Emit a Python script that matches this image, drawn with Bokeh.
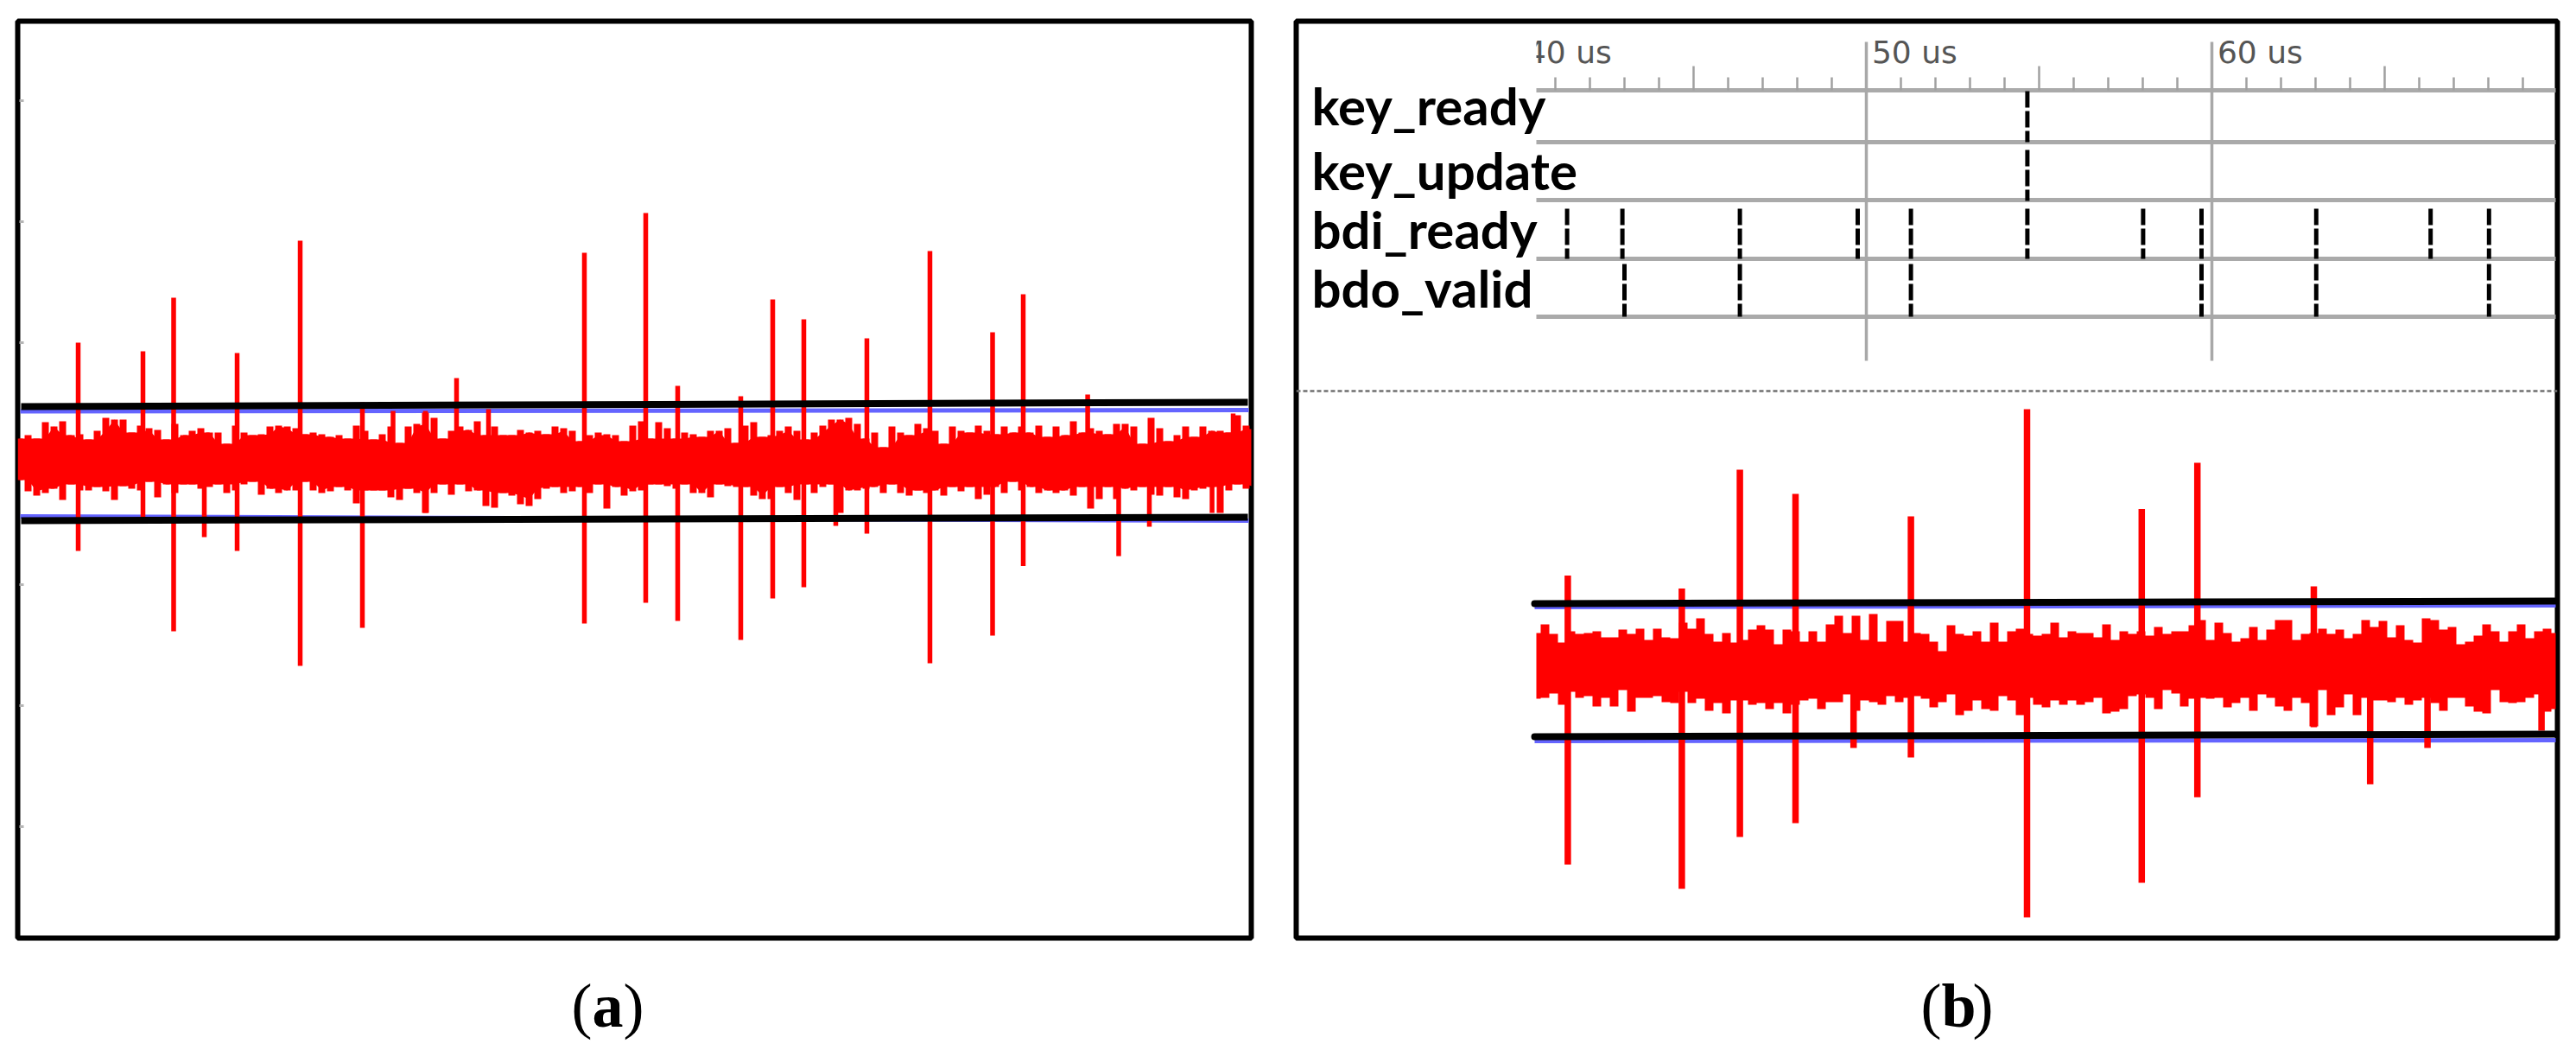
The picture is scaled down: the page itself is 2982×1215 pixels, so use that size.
from bokeh.plotting import figure
from bokeh.models import Range1d
from bokeh.layouts import row, column
from bokeh.core.properties import value
from bokeh.embed import file_html
from bokeh.resources import INLINE
import numpy as np

# ---- panel (a): t-statistic trace (arbitrary amplitude units, sample index)
a_step = 10
a_upper = [29,33,29,48,43,49,33,34,28,38,53,51,51,36,44,41,39,28,46,33,38,41,36,36,23,44,36,33,34,43,44,43,41,34,36,34,31,33,29,44,38,28,34,43,24,43,46,59,53,
           29,38,43,39,49,33,43,33,33,39,36,38,34,43,41,38,26,33,36,34,33,26,44,49,29,48,41,29,36,34,31,38,38,41,24,44,48,31,33,38,43,38,28,36,44,51,51,53,
           46,29,36,19,43,36,33,46,41,38,23,43,38,36,44,38,34,43,36,43,36,44,31,43,33,49,36,41,38,34,46,46,43,23,53,41,26,33,43,31,43,38,38,36,56,44,40]
a_lower = [-19,-32,-37,-34,-29,-42,-24,-31,-31,-27,-32,-42,-26,-29,-31,-21,-39,-24,-34,-24,-24,-29,-27,-24,-34,-31,-24,-21,-36,-29,-34,-31,-31,-21,-31,-34,-32,-27,-31,-46,-31,-31,-31,-39,-42,-29,-34,-57,-34,
           -24,-36,-24,-32,-31,-49,-51,-34,-37,-47,-49,-41,-29,-27,-34,-32,-27,-34,-24,-52,-27,-37,-32,-31,-24,-24,-26,-29,-24,-34,-34,-39,-24,-26,-27,-27,-37,-41,-41,-27,-34,-42,-24,-34,-27,-24,-57,-31,
           -31,-29,-27,-34,-24,-34,-37,-31,-34,-31,-37,-27,-32,-27,-41,-36,-27,-34,-21,-31,-27,-34,-31,-34,-31,-37,-27,-52,-41,-27,-41,-29,-31,-27,-36,-37,-27,-39,-41,-31,-29,-27,-57,-31,-24,-29,-27]
a_spike_x = [70,145,180.5,216,254,327,399,434.5,472,508,545,656,727,764,837,874,910,947,983,1056,1128.5,1164,1238.6,1274.5,1310,1382.6,1407]
a_spike_up = [140,130,192,0,128,258,71,61,61,99,63,244,290,90,78,190,167,0,145,246,152,196,80,0,0,0,58]
a_spike_dn = [-101,-69,-194,-85,-101,-234,-190,0,-57,0,0,-185,-161,-182,-204,-156,-143,-72,-81,-231,-199,-118.5,0,-107,-73,-57,0]
a_ticks = [-420,-280,-140,0,140,280,420]
a_black_x = [4,1424]
a_black_up = [66,71]
a_black_dn = [-66,-62]
a_blue_x = [3,1425]
a_blue_up = [60.5,62]
a_blue_dn = [-61,-66]

# ---- panel (b): waveform plus t-statistic trace (microseconds)
b_step = 0.25
b_start = 40.45
b_upper = [43,53,42,32,45,42,43,45,38,38,47,42,48,35,48,38,37,55,48,60,42,33,43,32,35,47,52,47,30,47,45,33,45,33,53,63,43,63,35,65,33,57,57,33,43,42,33,22,52,42,40,45,33,55,33,45,48,42,40,42,
           55,38,45,43,43,38,53,35,45,42,45,40,50,42,45,45,52,58,35,55,43,33,37,50,35,47,58,58,35,42,43,48,42,47,37,42,58,50,57,38,52,35,32,60,58,47,50,30,33,40,53,45,33,45,53,37,45,48,43]
b_lower = [-33,-32,-27,-40,-25,-32,-30,-42,-32,-42,-23,-48,-32,-32,-30,-37,-38,-25,-38,-33,-47,-38,-50,-35,-35,-40,-38,-45,-38,-50,-40,-35,-33,-45,-37,-37,-28,-47,-35,-37,-40,-30,-37,-32,-30,-33,-43,-37,-28,-52,-47,-35,-45,-47,-30,-35,-52,-32,-40,-43,
           -35,-40,-35,-40,-37,-32,-50,-48,-45,-30,-28,-32,-45,-23,-27,-42,-33,-32,-33,-32,-43,-38,-32,-47,-28,-32,-42,-47,-32,-38,-65,-23,-52,-43,-28,-52,-32,-35,-35,-37,-32,-40,-35,-32,-38,-47,-32,-32,-42,-48,-50,-23,-37,-38,-37,-32,-28,-48,-45]
b_spike_x = [41.36,44.66,46.34,47.95,49.63,51.29,54.65,57.97,59.58,62.95,64.58,66.24,69.54]
b_spike_up = [109.5,94.5,232,204,0,178,302,186.5,240,97,0,0,0]
b_spike_dn = [-225,-253,-193,-177,-90,-101,-286,-246,-147,-66,-132,-90,-70]
b_black_x = [40.4,69.95]
b_black_up = [77,80]
b_black_dn = [-77,-74]
b_blue_up = [73,75]
b_blue_dn = [-82,-81]

signal_names = ["key_ready","key_update","bdi_ready","bdo_valid"]
signal_label_y = [654,579,511,443]
signal_hi = [670,602,534,470]
signal_lo = [611,543,476,409]
key_ready_edges = [54.66]
key_update_edges = [54.66]
bdi_ready_edges = [41.34,42.94,46.34,49.75,51.29,54.66,58.01,59.7,63.02,66.33,68.02]
bdo_valid_edges = [43.0,46.34,51.29,59.7,63.02,68.02]
track_y = [671,611,544,476,409]
major_us = [45,55,65]
cursor_us = [50,60]
minor_us = [41,42,43,44,46,47,48,49,51,52,53,54,56,57,58,59,61,62,63,64,66,67,68,69]
time_labels = ["40 us","50 us","60 us"]
time_label_x = [40.16,50.16,60.16]

def panel(xr, yr, w, h, ml):
    p = figure(width=w, height=h, x_range=Range1d(*xr), y_range=Range1d(*yr), toolbar_location=None,
               output_backend="svg", x_axis_type=None, y_axis_type=None, min_border=4,
               margin=(20,0,0,ml), outline_line_color="black", outline_line_width=6, outline_line_alpha=1,
               background_fill_color="white", border_fill_color="white")
    p.grid.visible = False
    return p

def core(series, sign):
    # solid body of the band: the nearer of each sample and its neighbours
    s = np.abs(np.array(series, dtype=float))
    left = np.r_[s[0], s[:-1]]
    right = np.r_[s[1:], s[-1]]
    return sign*np.minimum(np.minimum(s, left), right)

# ------------------- panel a
pa = panel((0,1428), (-549,512), 1436, 1069, 16)
ax = np.arange(len(a_upper))*a_step + 2
pa.segment(x0=[2]*len(a_ticks), x1=[7]*len(a_ticks), y0=a_ticks, y1=a_ticks, line_color="#b5b5b5", line_width=3)
pa.line(a_blue_x, a_blue_up, line_color="#6464ff", line_width=5)
pa.line(a_blue_x, a_blue_dn, line_color="#6464ff", line_width=5)
pa.segment(x0=a_spike_x, x1=a_spike_x, y0=a_spike_dn, y1=a_spike_up, line_color="#ff0000", line_width=5.5)
pa.vbar(x=ax, width=8, bottom=a_lower, top=a_upper, fill_color="#ff0000", line_color=None)
pa.varea(x=ax, y1=core(a_lower,-1), y2=core(a_upper,1), fill_color="#ff0000")
pa.line(a_black_x, a_black_up, line_color="black", line_width=8)
pa.line(a_black_x, a_black_dn, line_color="black", line_width=8)

# ------------------- panel b
pb = panel((33.5,70), (-310,751), 1468, 1069, 44)
for yv in track_y:
    pb.line([40.45,69.95], [yv,yv], line_color="#aaaaaa", line_width=5)
pb.segment(x0=minor_us, x1=minor_us, y0=[671]*len(minor_us), y1=[686]*len(minor_us), line_color="#a0a0a0", line_width=2.5)
pb.segment(x0=major_us, x1=major_us, y0=[671]*len(major_us), y1=[699]*len(major_us), line_color="#a0a0a0", line_width=2.5)
pb.segment(x0=cursor_us, x1=cursor_us, y0=[358]*2, y1=[727]*2, line_color="#a8a8a8", line_width=3.5)
pb.text(x=time_label_x, y=[715]*3, text=time_labels, text_font=value("DejaVu Sans"), text_font_size="36px",
        text_color="#555555", text_baseline="alphabetic")
pb.quad(left=[33.6], right=[40.45], bottom=[695], top=[735], fill_color="white", line_color=None)
pb.text(x=[33.95]*4, y=signal_label_y, text=signal_names, text_font=value("Lato"), text_font_style="bold",
        text_font_size="60px", text_color="#000000", text_baseline="alphabetic")
for row_i, edges in enumerate([key_ready_edges, key_update_edges, bdi_ready_edges, bdo_valid_edges]):
    pb.segment(x0=edges, x1=edges, y0=[signal_hi[row_i]]*len(edges), y1=[signal_lo[row_i]]*len(edges),
               line_color="black", line_width=5, line_dash="19 4")
pb.line(x=[33.5,70], y=[323,323], line_color="#707070", line_width=2.5, line_dash="5 3")
bx = b_start + np.arange(len(b_upper))*b_step
pb.line(b_black_x, b_blue_up, line_color="#6464ff", line_width=5)
pb.line(b_black_x, b_blue_dn, line_color="#6464ff", line_width=5)
pb.segment(x0=b_spike_x, x1=b_spike_x, y0=b_spike_dn, y1=b_spike_up, line_color="#ff0000", line_width=7.5)
pb.varea_step(x=bx, y1=b_lower, y2=b_upper, step_mode="center", fill_color="#ff0000")
pb.line(b_black_x, b_black_up, line_color="black", line_width=8, line_cap="round")
pb.line(b_black_x, b_black_dn, line_color="black", line_width=8, line_cap="round")

# ------------------- captions
cap = figure(width=2966, height=118, x_range=Range1d(8,2974), y_range=Range1d(1207,1089), toolbar_location=None,
             output_backend="svg", x_axis_type=None, y_axis_type=None, min_border=0, outline_line_color=None)
cap.grid.visible = False
for x0, letter in [(669,"a"),(2231,"b")]:
    cap.text(x=[x0], y=[1163], text=["("], text_font=value("Liberation Serif"), text_font_size="72px",
             text_color="black", text_baseline="alphabetic")
    cap.text(x=[x0+24], y=[1163], text=[letter], text_font=value("Liberation Serif"), text_font_style="bold",
             text_font_size="72px", text_color="black", text_baseline="alphabetic")
    cap.text(x=[x0+60], y=[1163], text=[")"], text_font=value("Liberation Serif"), text_font_size="72px",
             text_color="black", text_baseline="alphabetic")

layout = column(row(pa, pb, spacing=0), cap, spacing=0)
open("out.html", "w").write(file_html(layout, INLINE))
